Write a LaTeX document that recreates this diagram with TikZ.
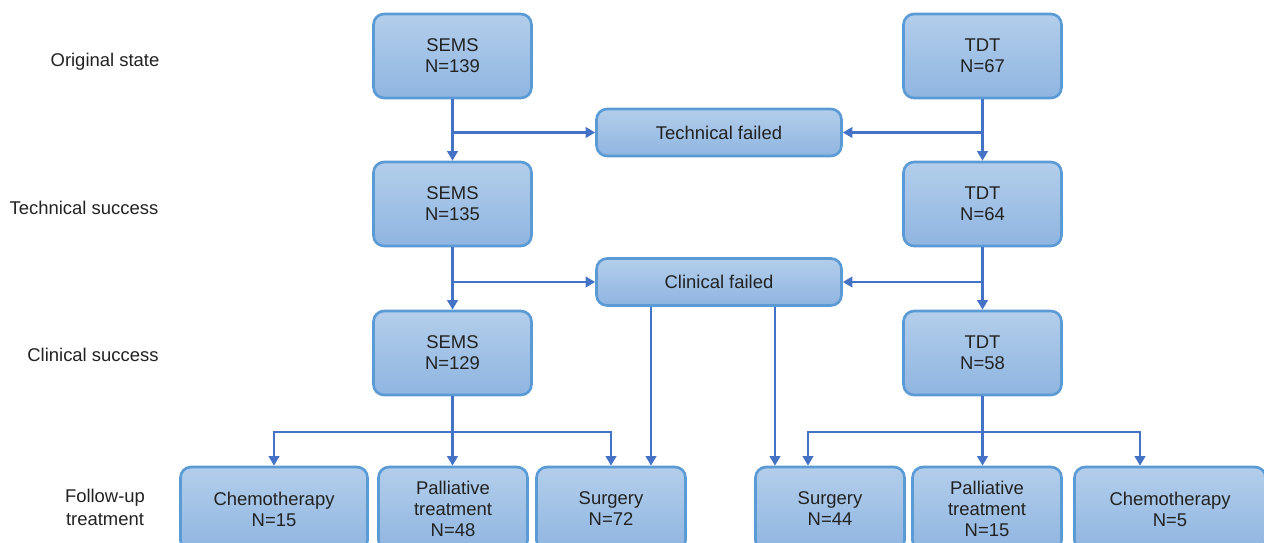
\documentclass[tikz,border=0pt]{standalone}
\usepackage{fontspec}
\setmainfont{Liberation Sans}
\usetikzlibrary{arrows.meta, positioning, calc}

\definecolor{boxline}{HTML}{5B9BD5}
\definecolor{boxtop}{HTML}{B3CEEB}
\definecolor{boxbot}{HTML}{8FB5E1}
\definecolor{arrowblue}{HTML}{4472C4}
\definecolor{txtgray}{HTML}{222222}

\begin{document}
\begin{tikzpicture}[
    x=0.02cm, y=-0.02cm,
    stage/.style={draw=boxline, line width=1.5pt, rounded corners=6pt, top color=boxtop, bottom color=boxbot, minimum width=#1, minimum height=1.68cm, align=center, font=\fontsize{10.5}{12}\selectfont, text=txtgray, inner sep=1pt},
    stage/.default=3.16cm,
    failbox/.style={stage=4.9cm, minimum height=0.94cm},
    flow/.style={-{Triangle[length=5.5pt, width=6pt]}, draw=arrowblue, line width=1.5pt},
    rowlabel/.style={align=center, font=\fontsize{10.5}{13}\selectfont, text=txtgray}
]
\useasboundingbox (0,0) rectangle (1264,542);
\clip (0,0) rectangle (1264,542);

% --- Row labels ---
\node[rowlabel] (lorig)   at (105,62)  {Original state};
\node[rowlabel] (ltech)   at (84,208)  {Technical success};
\node[rowlabel] (lclin)   at (93,355)  {Clinical success};
\node[rowlabel] (lfollow) at (105,507) {Follow-up\\treatment};

% --- SEMS column ---
\node[stage] (sems1) at (452.5,56)  {SEMS\\N=139};
\node[stage] (sems2) at (452.5,204) {SEMS\\N=135};
\node[stage] (sems3) at (452.5,353) {SEMS\\N=129};

% --- TDT column ---
\node[stage] (tdt1) at (982.5,56)  {TDT\\N=67};
\node[stage] (tdt2) at (982.5,204) {TDT\\N=64};
\node[stage] (tdt3) at (982.5,353) {TDT\\N=58};

% --- Failures ---
\node[failbox] (tfail) at (719,132.5) {Technical failed};
\node[failbox] (cfail) at (719,282)   {Clinical failed};

% --- Follow-up treatment ---
\node[stage=3.74cm] (chemL) at (274,509) {Chemotherapy\\N=15};
\node[stage=2.98cm] (palL)  at (453,509) {Palliative\\treatment\\N=48};
\node[stage=2.98cm] (surgL) at (611,509) {Surgery\\N=72};
\node[stage=2.98cm] (surgR) at (830,509) {Surgery\\N=44};
\node[stage=2.98cm] (palR)  at (987,509) {Palliative\\treatment\\N=15};
\node[stage=3.82cm] (chemR) at (1170,509) {Chemotherapy\\N=5};

% X positions for arrows
\coordinate (dropL) at (651,0);
\coordinate (dropR) at (775,0);
\coordinate (barL)  at (0,432);
\coordinate (hookS) at (808,432);
\coordinate (hookC) at (1140,432);

% --- Arrows ---
% 1. Original state to technical success
\draw[flow] (sems1) -- (sems2);
\draw[flow] (sems1.south |- tfail) -- (tfail.west);
\draw[flow] (tdt1) -- (tdt2);
\draw[flow] (tdt1.south |- tfail) -- (tfail.east);

% 2. Technical success to clinical success
\draw[flow] (sems2) -- (sems3);
\draw[flow] (sems2.south |- cfail) -- (cfail.west);
\draw[flow] (tdt2) -- (tdt3);
\draw[flow] (tdt2.south |- cfail) -- (cfail.east);

% 3. Clinical failed to surgery
\draw[flow] (cfail.south -| dropL) -- (surgL.north -| dropL);
\draw[flow] (cfail.south -| dropR) -- (surgR.north -| dropR);

% 4. SEMS follow-up
\draw[flow] (sems3.south) -- (sems3.south |- palL.north);
\draw[flow] (sems3.south |- barL) -| (chemL.north);
\draw[flow] (sems3.south |- barL) -| (surgL.north);

% 5. TDT follow-up
\draw[flow] (tdt3.south) -- (tdt3.south |- palR.north);
\draw[flow] (tdt3.south |- hookS) -- (hookS) -- (hookS |- surgR.north);
\draw[flow] (tdt3.south |- hookC) -- (hookC) -- (hookC |- chemR.north);

\end{tikzpicture}
\end{document}
